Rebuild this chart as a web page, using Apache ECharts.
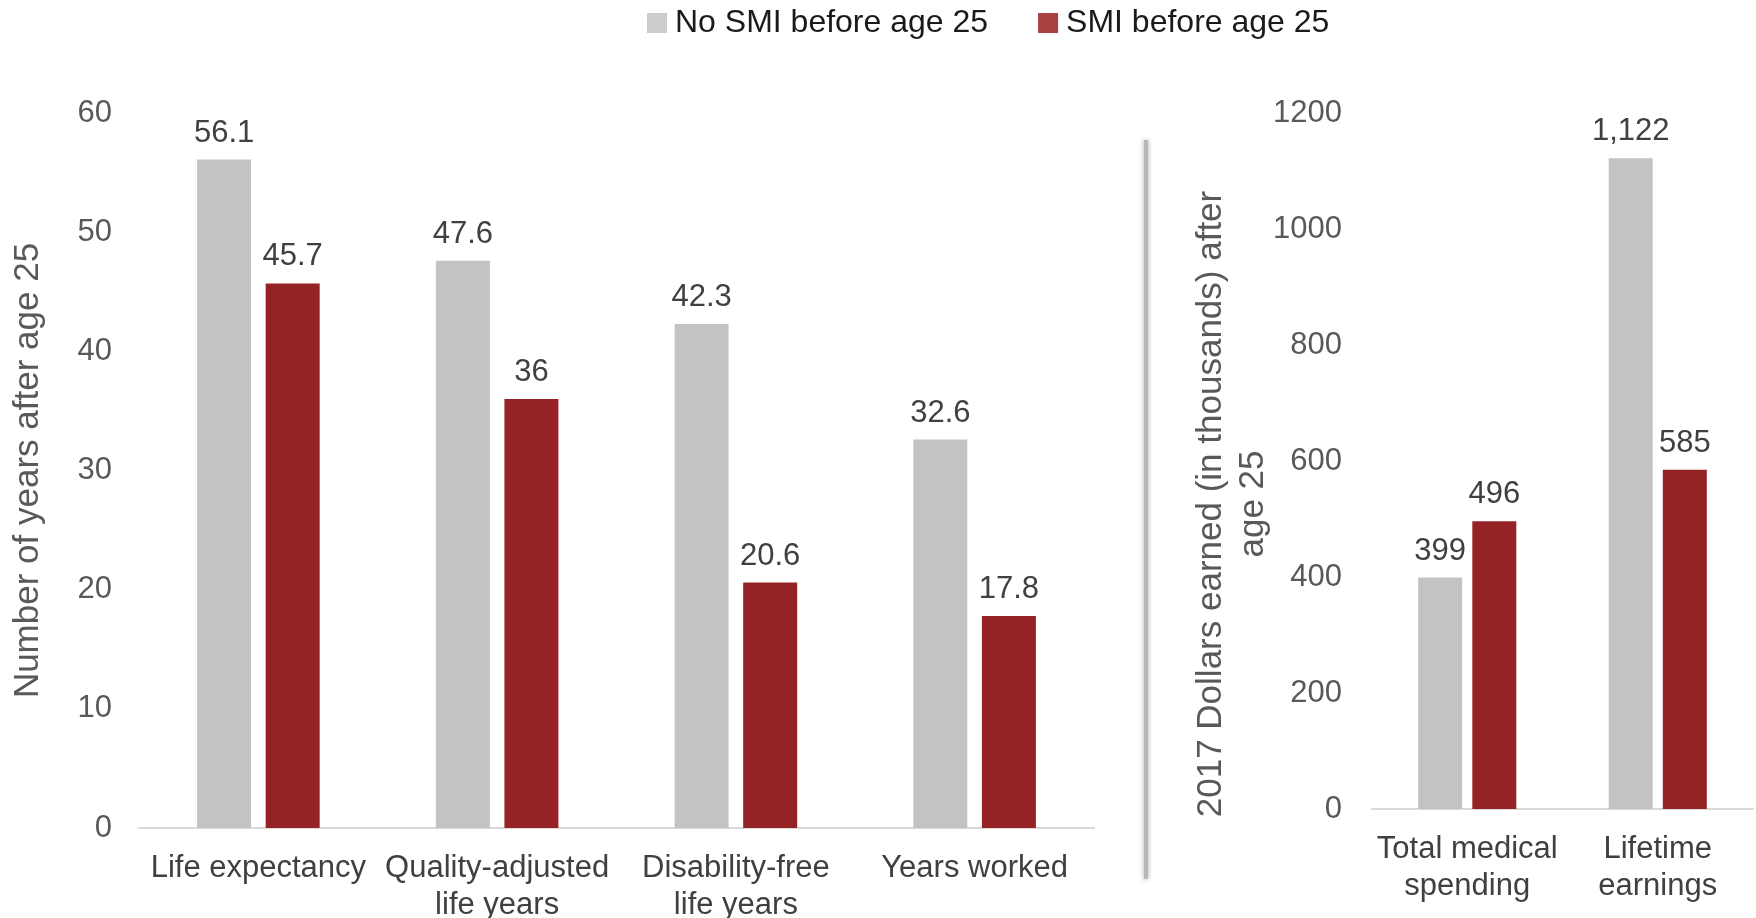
<!DOCTYPE html>
<html>
<head>
<meta charset="utf-8">
<title>Outcomes after age 25 by SMI status</title>
<script src="https://cdn.jsdelivr.net/npm/echarts@6/dist/echarts.min.js"></script>
<style>
  html, body { margin: 0; padding: 0; background: #ffffff; }
  #chart { width: 1756px; height: 918px; }
</style>
</head>
<body>
<div id="chart"></div>
<script>
// Years-based outcomes (left panel)
const yearCategories = ['Life expectancy', 'Quality-adjusted\nlife years', 'Disability-free\nlife years', 'Years worked'];
const yearsNoSMI = [56.1, 47.6, 42.3, 32.6];
const yearsSMI = [45.7, 36, 20.6, 17.8];

// Dollar-based outcomes, thousands of 2017 dollars (right panel)
const dollarCategories = ['Total medical\nspending', 'Lifetime\nearnings'];
const dollarsNoSMI = [399, 1122];
const dollarsSMI = [496, 585];

const seriesNames = ['No SMI before age 25', 'SMI before age 25'];
const leftTicks = { min: 0, max: 60, interval: 10 };
const rightTicks = { min: 0, max: 1200, interval: 200 };

const FONT = 'Liberation Sans, Arial, sans-serif';
const GREY = '#C4C3C1';
const RED = '#952326';

const chart = echarts.init(document.getElementById('chart'), null, { renderer: 'canvas' });

const valueLabel = (fmt) => ({
  show: true,
  position: 'top',
  distance: 11,
  color: '#404040',
  fontFamily: FONT,
  fontSize: 31,
  formatter: fmt
});

const catAxis = (idx, data) => ({
  type: 'category',
  gridIndex: idx,
  data: data,
  axisLine: { show: true, lineStyle: { color: '#D9D9D9', width: 2 } },
  axisTick: { show: false },
  axisLabel: {
    interval: 0,
    margin: 22,
    color: '#404040',
    fontFamily: FONT,
    fontSize: 31,
    lineHeight: 37
  }
});

chart.setOption({
  animation: false,
  backgroundColor: '#ffffff',
  legend: {
    left: 642,
    top: 2,
    itemWidth: 20,
    itemHeight: 20,
    itemGap: 50,
    icon: 'rect',
    textStyle: { color: '#1a1a1a', fontFamily: FONT, fontSize: 32, padding: [0, 0, 0, 3] },
    data: [
      { name: seriesNames[0], itemStyle: { color: '#CCCCCC' } },
      { name: seriesNames[1], itemStyle: { color: '#A94141' } }
    ]
  },
  grid: [
    { left: 139, top: 113, width: 955, height: 715, outerBoundsMode: 'none' },
    { left: 1372, top: 113, width: 381, height: 696, outerBoundsMode: 'none' }
  ],
  xAxis: [catAxis(0, yearCategories), catAxis(1, dollarCategories)],
  yAxis: [
    {
      type: 'value',
      gridIndex: 0,
      min: leftTicks.min, max: leftTicks.max, interval: leftTicks.interval,
      splitLine: { show: false },
      axisLine: { show: false },
      axisTick: { show: false },
      axisLabel: { margin: 27, color: '#595959', fontFamily: FONT, fontSize: 31 },
      name: 'Number of years after age 25',
      nameLocation: 'middle',
      nameGap: 93,
      nameTextStyle: { color: '#595959', fontFamily: FONT, fontSize: 35 }
    },
    {
      type: 'value',
      gridIndex: 1,
      min: rightTicks.min, max: rightTicks.max, interval: rightTicks.interval,
      splitLine: { show: false },
      axisLine: { show: false },
      axisTick: { show: false },
      axisLabel: {
        margin: 30, color: '#595959', fontFamily: FONT, fontSize: 31,
        formatter: v => String(v)
      }
    }
  ],
  series: [
    {
      name: seriesNames[0], type: 'bar', xAxisIndex: 0, yAxisIndex: 0,
      data: yearsNoSMI, barWidth: 54, barGap: '27%',
      itemStyle: { color: GREY },
      label: valueLabel(p => String(p.value))
    },
    {
      name: seriesNames[1], type: 'bar', xAxisIndex: 0, yAxisIndex: 0,
      data: yearsSMI, barWidth: 54, barGap: '27%',
      itemStyle: { color: RED },
      label: valueLabel(p => String(p.value))
    },
    {
      name: seriesNames[0], type: 'bar', xAxisIndex: 1, yAxisIndex: 1,
      data: dollarsNoSMI, barWidth: 44, barGap: '23%',
      itemStyle: { color: GREY },
      label: valueLabel(p => p.value.toLocaleString('en-US'))
    },
    {
      name: seriesNames[1], type: 'bar', xAxisIndex: 1, yAxisIndex: 1,
      data: dollarsSMI, barWidth: 44, barGap: '23%',
      itemStyle: { color: RED },
      label: valueLabel(p => p.value.toLocaleString('en-US'))
    }
  ],
  graphic: [
    // soft vertical divider between the two panels
    {
      type: 'line',
      shape: { x1: 1146, y1: 140, x2: 1146, y2: 879 },
      style: { stroke: '#B8B8B8', lineWidth: 4, shadowBlur: 5, shadowColor: 'rgba(0,0,0,0.35)' }
    },
    // y-axis title of the dollars panel
    {
      type: 'text',
      x: 1232,
      y: 504,
      rotation: Math.PI / 2,
      style: {
        text: '2017 Dollars earned (in thousands) after\nage 25',
        fill: '#595959',
        font: '35px ' + FONT,
        textAlign: 'center',
        textVerticalAlign: 'middle',
        lineHeight: 42
      }
    }
  ]
});
</script>
</body>
</html>
